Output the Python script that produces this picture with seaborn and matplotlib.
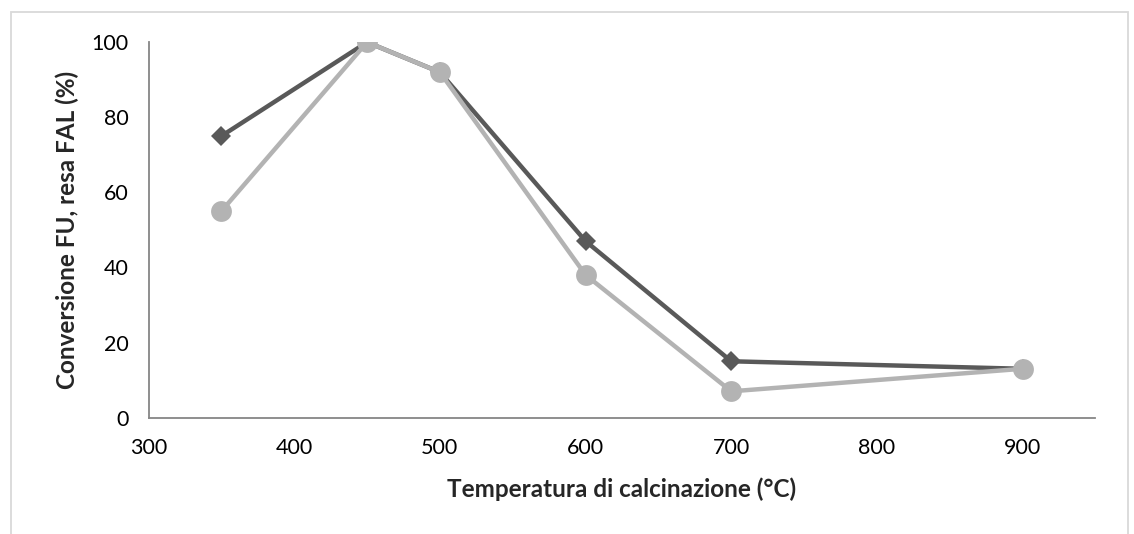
import matplotlib.pyplot as plt
import pandas as pd
import seaborn as sns
from matplotlib.patches import Rectangle

# Data
temperatura = [350, 450, 500, 600, 700, 900]
conversione_fu = [75, 100, 92, 47, 15, 13]
resa_fal = [55, 100, 92, 38, 7, 13]

df = pd.DataFrame({
    'T': temperatura * 2,
    'val': conversione_fu + resa_fal,
    'serie': ['Conversione FU'] * len(temperatura) + ['Resa FAL'] * len(temperatura),
})

sns.set_style('white')
plt.rcParams['font.family'] = ['Lato', 'DejaVu Sans']

fig, ax = plt.subplots(figsize=(11.34, 5.34), dpi=100)
fig.subplots_adjust(left=0.131, right=0.966, top=0.921, bottom=0.218)

colors = {'Conversione FU': '#595959', 'Resa FAL': '#b3b3b3'}
markers = {'Conversione FU': 'D', 'Resa FAL': 'o'}
sizes = {'Conversione FU': 10, 'Resa FAL': 15}

# dark series first, the light one sits on top
for serie in ['Conversione FU', 'Resa FAL']:
    sub = df[df['serie'] == serie]
    sns.lineplot(data=sub, x='T', y='val', ax=ax, color=colors[serie],
                 linewidth=3.2, marker=markers[serie], markersize=sizes[serie],
                 markeredgewidth=0, markerfacecolor=colors[serie], legend=False)

ax.set_xlim(300, 950)
ax.set_ylim(0, 100)
ax.set_xticks([300, 400, 500, 600, 700, 800, 900])
ax.set_yticks([0, 20, 40, 60, 80, 100])

for side in ['top', 'right']:
    ax.spines[side].set_visible(False)
for side in ['left', 'bottom']:
    ax.spines[side].set_color('#868686')
    ax.spines[side].set_linewidth(1.3)

ax.tick_params(axis='both', direction='inout', length=11, width=1.3,
               color='#868686', labelsize=15.5, labelcolor='black')
ax.tick_params(axis='x', pad=9)
ax.tick_params(axis='y', pad=9)

ax.set_xlabel('Temperatura di calcinazione (°C)', fontsize=17.5, fontweight='bold', labelpad=14)
ax.set_ylabel('Conversione FU, resa FAL (%)', fontsize=17.5, fontweight='bold', labelpad=9)

# light frame around the chart
fig.patches.append(Rectangle((0.0097, -0.05), 0.985, 1.027, transform=fig.transFigure,
                             fill=False, edgecolor='#d9d9d9', linewidth=1.3))

fig.savefig('out.png', dpi=100)
